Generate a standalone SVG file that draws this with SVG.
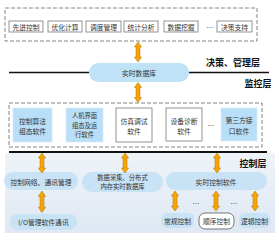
<svg xmlns="http://www.w3.org/2000/svg" width="279" height="242" viewBox="0 0 279 242">
<style>
text{font-family:"Noto Sans CJK SC","Noto Sans",sans-serif;fill:#333;text-anchor:middle;dominant-baseline:central}
.t{font-size:6.8px}
.s{font-size:6.3px}
.lab{font-size:9px;fill:#111;font-weight:bold}
.dash{fill:none;stroke:#777;stroke-width:0.9;stroke-dasharray:4,2}
.wbox{fill:#fff;stroke:#888;stroke-width:0.9}
.bbox{fill:#b9def7;stroke:#d6ecfb;stroke-width:0.8}
.ell{fill:#bfe2f7}
.ell2{fill:#c8e2f6}
.arr{fill:#f6a500;stroke:#b07000;stroke-width:0.5}
.ln{stroke:#111;fill:none}
</style>
<defs>
<path id="a20" d="M0,0 L3.6,5 L2,5 L2,15 L3.6,15 L0,20 L-3.6,15 L-2,15 L-2,5 L-3.6,5 Z"/>
<linearGradient id="bg" x1="0" y1="0" x2="0" y2="1">
<stop offset="0" stop-color="#eef3f8"/>
<stop offset="1" stop-color="#dfe8f3"/>
</linearGradient>
</defs>
<rect width="279" height="242" fill="#fff"/>
<rect x="5" y="153" width="270" height="80" fill="url(#bg)"/>

<g id="frames">
<rect class="dash" x="5" y="8" width="252" height="33"/>
<rect class="dash" x="9" y="103" width="253" height="44"/>
</g>

<g id="layer-lines">
<line class="ln" x1="9" y1="72.5" x2="89" y2="72.5" stroke-width="1.3"/>
<line class="ln" x1="189" y1="72.5" x2="269" y2="72.5" stroke-width="1.3"/>
<line class="ln" x1="9" y1="152" x2="267" y2="152" stroke-width="2"/>
<text class="lab" x="233" y="62">决策、管理层</text>
<text class="lab" x="258" y="83">监控层</text>
<text class="lab" x="253" y="163">控制层</text>
</g>

<g id="n-xjkz"><rect class="wbox" x="9" y="21" width="34" height="11"/><text class="t" x="26" y="26.5">先进控制</text></g>
<g id="n-yhjs"><rect class="wbox" x="48" y="21" width="34" height="11"/><text class="t" x="65" y="26.5">优化计算</text></g>
<g id="n-ddgl"><rect class="wbox" x="86" y="21" width="35" height="11"/><text class="t" x="103.5" y="26.5">调度管理</text></g>
<g id="n-tjfx"><rect class="wbox" x="124" y="21" width="34" height="11"/><text class="t" x="141" y="26.5">统计分析</text></g>
<g id="n-sjwj"><rect class="wbox" x="164" y="21" width="34" height="11"/><text class="t" x="181" y="26.5">数据挖掘</text></g>
<text class="t" x="210" y="27">…</text>
<g id="n-jczc"><rect class="wbox" x="217" y="21" width="35" height="11"/><text class="t" x="234.5" y="26.5">决策支持</text></g>

<g id="n-sssjk"><rect class="ell" x="89" y="63" width="100" height="19" rx="9.5"/><text class="t" x="139" y="72.5">实时数据库</text></g>

<g id="n-kzsf"><rect class="bbox" x="13" y="108" width="39" height="34"/><text class="t" x="32.5" y="120.5">控制算法</text><text class="t" x="32.5" y="130.5">组态软件</text></g>
<g id="n-rjjm"><rect class="bbox" x="66" y="108" width="37" height="34"/><text class="s" x="84.5" y="115.5">人机界面</text><text class="s" x="84.5" y="125">组态及运</text><text class="s" x="84.5" y="134.5">行软件</text></g>
<g id="n-fzts"><rect class="wbox" x="116" y="108" width="36" height="34"/><text class="t" x="134" y="120.5">仿真调试</text><text class="t" x="134" y="130.5">软件</text></g>
<g id="n-sbzd"><rect class="wbox" x="166" y="108" width="36" height="33"/><text class="t" x="184" y="120.5">设备诊断</text><text class="t" x="184" y="130.5">软件</text></g>
<text class="t" x="211" y="125">…</text>
<g id="n-dsf"><rect class="bbox" x="221" y="108" width="36" height="33"/><text class="t" x="239" y="119.5">第三方接</text><text class="t" x="239" y="130.5">口软件</text></g>

<g id="n-kzwl"><rect class="ell2" x="4" y="172" width="74" height="18" rx="9"/><text class="t" x="41" y="181.5">控制网络、通讯管理</text></g>
<g id="n-io"><rect class="ell2" x="10" y="214" width="67" height="16" rx="8"/><text class="t" x="43.5" y="222">I/O管理软件通讯</text></g>
<g id="n-sjcj"><rect class="ell2" x="82" y="172" width="81" height="20" rx="10"/><text class="s" x="122.5" y="177.5">数据采集、分布式</text><text class="s" x="122.5" y="186.5">内存实时数据库</text></g>
<g id="n-sskz"><rect class="ell2" x="166" y="172" width="101" height="18" rx="9"/><text class="t" x="216" y="181.5">实时控制软件</text></g>
<g id="n-cgkz"><rect class="ell2" x="161" y="213" width="33" height="15" rx="6"/><text class="t" x="177.5" y="220.5">常规控制</text></g>
<g id="n-sxkz"><rect x="199" y="213" width="35" height="16" rx="6" fill="#fff" stroke="#555" stroke-width="0.8"/><text class="t" x="216.5" y="221">顺序控制</text></g>
<g id="n-ljkz"><rect class="ell2" x="239" y="213" width="31" height="15" rx="6"/><text class="t" x="254.5" y="220.5">逻辑控制</text></g>
<text class="t" x="196" y="203">…</text>
<text class="t" x="234" y="203">…</text>

<g id="connectors">
<use href="#a20" class="arr" transform="translate(138,42)"/>
<use href="#a20" class="arr" transform="translate(138,82.5)"/>
<use href="#a20" class="arr" transform="translate(42,153)"/>
<use href="#a20" class="arr" transform="translate(42,191) scale(1,1.08)"/>
<use href="#a20" class="arr" transform="translate(125,153)"/>
<use href="#a20" class="arr" transform="translate(217,153)"/>
<use href="#a20" class="arr" transform="translate(175,191)"/>
<use href="#a20" class="arr" transform="translate(216,191)"/>
<use href="#a20" class="arr" transform="translate(255,191)"/>
</g>
</svg>
